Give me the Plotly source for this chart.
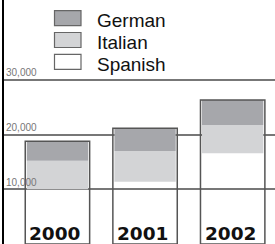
import plotly.graph_objects as go

years = ["2000", "2001", "2002"]
spanish = [10000, 11400, 16600]
italian = [5200, 5600, 5150]
german = [3600, 4150, 4570]
series_names = ["German", "Italian", "Spanish"]
tick_vals = [10000, 20000, 30000]

col_german = "#a6a7ab"
col_italian = "#d3d4d6"
col_spanish = "rgba(255,255,255,0)"

base_italian = spanish
base_german = [s + i for s, i in zip(spanish, italian)]
totals = [s + i + g for s, i, g in zip(spanish, italian, german)]

fig = go.Figure()
fill_w = 0.70
fig.add_bar(x=years, y=spanish, base=[0] * 3, width=fill_w, name="Spanish",
            marker=dict(color=col_spanish, line=dict(width=0)))
fig.add_bar(x=years, y=italian, base=base_italian, width=fill_w, name="Italian",
            marker=dict(color=col_italian, line=dict(width=0)))
fig.add_bar(x=years, y=german, base=base_german, width=fill_w, name="German",
            marker=dict(color=col_german, line=dict(width=0)))
fig.add_bar(x=years, y=totals, base=[0] * 3, width=0.735, name="outline",
            marker=dict(color="rgba(0,0,0,0)", line=dict(color="#555", width=1.5)),
            hoverinfo="skip")

W, H, L = 275, 244, 4
PW = W - L


def px(x):
    return (x - L) / PW


def py(y):
    return 1 - y / H


shapes = []
annotations = []
legend_fill = {"German": col_german, "Italian": col_italian, "Spanish": "white"}
for k, name in enumerate(series_names):
    y0 = 10.7 + k * 21.8
    shapes.append(dict(type="rect", xref="paper", yref="paper",
                       x0=px(54.5), x1=px(81), y0=py(y0), y1=py(y0 + 15),
                       fillcolor=legend_fill[name], line=dict(color="#666", width=1.2)))
    annotations.append(dict(xref="paper", yref="paper", x=px(95), y=py(y0 + 10),
                            xanchor="left", yanchor="middle", showarrow=False,
                            text=name, font=dict(family="Liberation Sans", size=19, color="#111")))

for i, yr in enumerate(years):
    annotations.append(dict(x=i, y=0, xref="x", yref="y", yanchor="bottom",
                            xanchor="center", showarrow=False, yshift=-2, xshift=-2,
                            text="<b>" + yr + "</b>",
                            font=dict(family="DejaVu Sans", size=18.5, color="#111")))

fig.update_layout(
    width=W, height=H, margin=dict(l=L, r=0, t=0, b=0),
    barmode="overlay", showlegend=False,
    paper_bgcolor="white", plot_bgcolor="white",
    shapes=shapes, annotations=annotations,
    xaxis=dict(type="category", range=[-0.61, 2.483], showticklabels=False, showgrid=False,
               zeroline=False, showline=False, ticks=""),
    yaxis=dict(range=[0, 44600], tickvals=tick_vals, tickformat=",",
               ticklabelposition="inside top", ticks="",
               tickfont=dict(family="Liberation Sans", size=10, color="#777"),
               showgrid=True, gridcolor="#777", gridwidth=1.5,
               zeroline=False, showline=True, linecolor="black", linewidth=2),
)

fig.write_html("out.html", config={"displayModeBar": False},
               post_script="document.body.style.margin='0';document.body.style.overflow='hidden';")
